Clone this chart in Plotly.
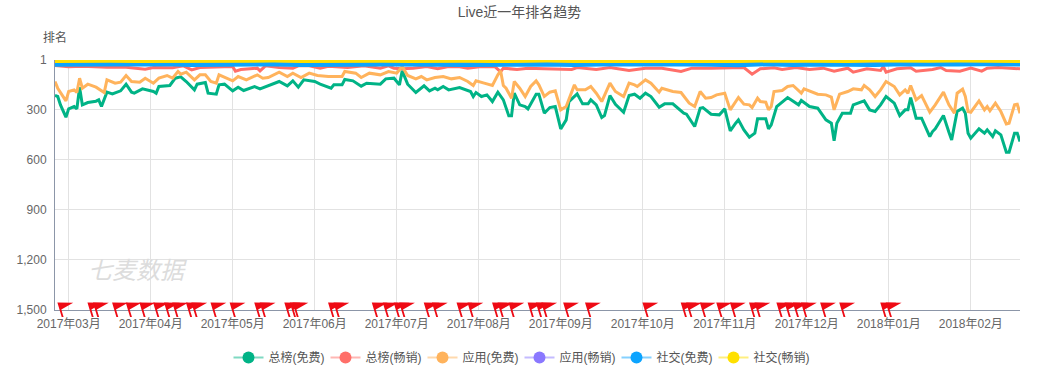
import plotly.graph_objects as go

TITLE = "Live近一年排名趋势"
WATERMARK = "七麦数据"
Y_NAME = "排名"
NAMES = ["总榜(免费)", "总榜(畅销)", "应用(免费)", "应用(畅销)", "社交(免费)", "社交(畅销)"]
COLORS = ["#00b386", "#ff6f69", "#ffb35c", "#8a78ff", "#0ca4ff", "#ffe000"]
PALE = ["rgba(0,179,134,0.5)", "rgba(255,111,105,0.5)", "rgba(255,179,92,0.5)",
        "rgba(138,120,255,0.5)", "rgba(12,164,255,0.5)", "rgba(255,224,0,0.5)"]

MONTH_IDX = [5, 35, 65, 95, 125, 155, 185, 215, 245, 275, 305, 335]
MONTH_LABELS = ["2017年03月", "2017年04月", "2017年05月", "2017年06月", "2017年07月", "2017年08月",
                "2017年09月", "2017年10月", "2017年11月", "2017年12月", "2018年01月", "2018年02月"]
LAST_IDX = 353
RANK_TICKS = [1, 300, 600, 900, 1200, 1500]
RANK_LABELS = ["1", "300", "600", "900", "1,200", "1,500"]

green_x = [0, 1, 2, 4, 5, 7, 8, 9, 10, 12, 15, 16, 17, 19, 21, 24, 26, 28, 29, 32, 36, 37, 38, 42, 44, 46, 48, 51, 52, 55, 56, 59,
           60, 62, 65, 67, 69, 73, 75, 79, 82, 85, 87, 89, 91, 95, 97, 101, 102, 105, 106, 109, 112, 114, 119,
           121, 124, 126, 127, 129, 132, 135, 137, 139, 140, 142, 144, 148, 152, 153, 154, 156, 158, 160, 162, 164, 166, 167, 168, 170, 172, 173, 176, 177, 179,
           181, 183, 185, 187, 188, 191, 193, 195, 196, 198, 200, 201, 203, 205, 208, 210, 212, 214, 216, 218, 221, 223, 226, 230, 231, 234, 236, 237, 240,
           243, 245, 247, 249, 250, 252, 254, 256, 257, 260, 261, 262, 264, 268, 272, 273, 276, 279, 282, 284, 285, 286, 288, 291, 292, 296, 298, 300,
           302, 304, 307, 309, 311, 312, 313, 315, 317, 320, 321, 322, 325, 327, 328, 330, 332, 333, 334, 335, 337, 338, 340, 341, 343, 344, 346, 348, 349, 351, 352, 353]
green_y = [214, 220, 270, 344, 294, 280, 294, 164, 270, 256, 248, 240, 280, 194, 204, 186, 146, 194, 200, 174, 190, 200, 160, 154, 110, 102, 130, 180, 146, 136, 200, 206,
           150, 146, 186, 164, 184, 160, 174, 150, 130, 156, 126, 164, 120, 130, 146, 170, 150, 150, 118, 126, 158, 140, 146,
           114, 110, 150, 66, 146, 196, 156, 186, 170, 180, 160, 180, 166, 190, 220, 196, 220, 210, 250, 194, 240, 336, 336, 200, 270, 280, 294, 206, 206, 320,
           286, 280, 414, 360, 250, 204, 264, 264, 240, 270, 346, 334, 214, 266, 314, 214, 206, 230, 200, 220, 284, 264, 264, 320, 326, 400, 290, 286, 326,
           330, 294, 426, 380, 360, 420, 464, 440, 354, 354, 414, 390, 280, 226, 270, 244, 280, 290, 360, 380, 486, 380, 320, 320, 270, 246, 300, 310,
           270, 220, 260, 334, 300, 300, 226, 350, 350, 460, 430, 414, 334, 434, 480, 310, 290, 320, 440, 470, 430, 414, 440, 420, 460, 426, 450, 554, 554, 440, 440, 490]

orange_x = [0, 1, 4, 5, 7, 8, 9, 10, 12, 15, 18, 19, 22, 24, 26, 28, 31, 33, 36, 38, 41, 43, 45, 46, 48, 51, 53, 55, 57, 59,
            60, 62, 65, 67, 70, 74, 76, 78, 82, 85, 87, 90, 93, 96, 100, 105, 106, 110, 112, 115, 119,
            122, 125, 127, 129, 132, 134, 136, 139, 142, 145, 148, 151, 153, 154, 157, 160, 162, 163, 164, 165, 167, 168, 170, 172, 174, 176, 177, 179,
            181, 183, 185, 187, 190, 191, 194, 196, 198, 200, 203, 205, 208, 210, 212, 213, 216, 218, 221, 222, 226, 229, 232, 234, 236, 238, 240,
            242, 245, 247, 250, 252, 254, 255, 257, 258, 260, 261, 262, 263, 266, 268, 270, 273, 274, 279, 282, 284, 285, 287, 290, 292, 295, 296, 298, 300,
            302, 304, 307, 309, 311, 312, 313, 315, 317, 320, 322, 325, 327, 329, 330, 332, 333, 334, 335, 337, 338, 340, 341, 342, 344, 346, 348, 349, 351, 352, 353]
orange_y = [130, 170, 246, 190, 180, 196, 110, 170, 146, 164, 196, 120, 140, 134, 94, 130, 134, 110, 140, 110, 94, 110, 70, 86, 74, 120, 90, 90, 130, 140,
            90, 104, 126, 100, 120, 90, 110, 106, 74, 100, 80, 106, 80, 94, 100, 100, 70, 80, 106, 80, 90,
            70, 80, 40, 94, 114, 100, 120, 106, 100, 114, 106, 130, 154, 126, 140, 154, 90, 66, 154, 170, 230, 130, 170, 220, 160, 126, 150, 220,
            194, 186, 300, 280, 150, 180, 180, 160, 200, 250, 140, 190, 220, 140, 150, 160, 120, 140, 194, 170, 190, 196, 260, 280, 190, 230, 226,
            210, 200, 300, 226, 266, 270, 286, 230, 250, 254, 300, 280, 190, 184, 160, 154, 200, 174, 206, 210, 224, 300, 206, 190, 174, 180, 154, 180, 220,
            180, 130, 160, 210, 180, 200, 154, 240, 214, 314, 270, 194, 270, 320, 200, 176, 220, 310, 314, 270, 246, 300, 280, 306, 260, 310, 384, 380, 270, 266, 320]

red_x = [0, 5, 10, 19, 26, 33, 36, 43, 47, 50, 53, 59, 62, 65, 66, 68, 71, 74, 75, 77, 82, 87, 89, 93, 97, 100, 107, 113, 119,
         122, 124, 127, 131, 136, 140, 144, 148, 151, 156, 161, 163, 164, 169, 173, 179, 185, 189, 191, 198, 203, 210, 216, 222, 229, 233, 240,
         247, 252, 255, 258, 263, 266, 271, 276, 281, 285, 290, 292, 297, 300, 302, 303, 304, 308, 313, 315, 321, 324, 326, 331, 335, 339, 341, 345, 348, 353]
red_y = [34, 42, 38, 44, 44, 56, 46, 48, 36, 60, 46, 46, 42, 40, 68, 58, 56, 50, 66, 36, 46, 50, 36, 36, 50, 38, 46, 36, 50,
         36, 50, 54, 50, 40, 54, 40, 42, 50, 40, 42, 72, 50, 58, 50, 54, 54, 58, 46, 58, 46, 64, 50, 50, 70, 50, 50,
         50, 46, 86, 54, 48, 58, 46, 58, 50, 68, 50, 74, 54, 58, 64, 40, 74, 54, 48, 68, 58, 46, 64, 68, 50, 68, 50, 46, 50, 54]

thin_x = [0, 10, 20, 30, 40, 50, 60, 70, 80, 90, 100, 110, 120, 130, 140, 150, 160, 170, 180, 190, 200, 210, 220, 230,
          240, 250, 260, 270, 280, 290, 300, 310, 320, 330, 340, 353]
purple_y = [22, 22, 20, 24, 22, 20, 22, 20, 26, 22, 20, 18, 22, 28, 18, 24, 20, 26, 20, 18, 26, 22, 18, 26,
            22, 20, 22, 26, 18, 24, 18, 20, 26, 16, 16, 18]
blue_y = [28, 26, 25, 28, 25, 30, 27, 25, 26, 30, 26, 28, 26, 25, 28, 30, 26, 28, 26, 30, 27, 25, 28, 26,
          28, 31, 25, 30, 26, 28, 30, 25, 28, 26, 25, 26]
yellow_y = [5, 3, 4, 6, 5, 2, 4, 5, 3, 6, 4, 3, 4, 5, 2, 4, 6, 3, 3, 5, 6, 5, 2, 7,
            5, 6, 3, 5, 4, 6, 3, 6, 4, 3, 6, 5]

FLAG_IDX = [3, 14, 16, 23, 28, 33, 38, 42, 45, 50, 52, 59, 66, 75, 77, 86, 88, 89, 102, 104,
            118, 122, 126, 128, 137, 140, 149, 153, 162, 164, 168, 175, 178, 180, 188, 196, 217,
            231, 233, 238, 244, 249, 256, 258, 266, 269, 272, 275, 282, 289, 304, 306]

FONT = "Liberation Sans, Noto Sans CJK SC, sans-serif"
fig = go.Figure()

series = [(green_x, green_y), (red_x, red_y), (orange_x, orange_y),
          (thin_x, purple_y), (thin_x, blue_y), (thin_x, yellow_y)]
WIDTHS = [3, 3, 3, 3, 4.5, 4.5]
for name, color, (xs, ys), w in zip(NAMES, COLORS, series, WIDTHS):
    fig.add_trace(go.Scatter(x=xs, y=ys, mode="lines", name=name, legendgroup=name, showlegend=False,
                             line=dict(color=color, width=w), cliponaxis=False))
for name, color, pale in zip(NAMES, COLORS, PALE):
    fig.add_trace(go.Scatter(x=[None], y=[None], mode="lines+markers", name=name, legendgroup=name,
                             line=dict(color=pale, width=2),
                             marker=dict(color=color, size=12, opacity=1)))

for idx in FLAG_IDX:
    fig.add_shape(type="path", xref="x", yref="paper", xsizemode="pixel", ysizemode="pixel",
                  xanchor=idx, yanchor=0,
                  path="M 0.4,-7 L -1.9,0.5 L 10,7.2 L -5.8,7.5 L -1.5,-7 Z",
                  fillcolor="#ee0a14", line=dict(width=0), layer="above")

fig.add_annotation(text=Y_NAME, xref="paper", yref="paper", x=0, y=1 + 22 / 250, showarrow=False,
                   xanchor="center", yanchor="middle", font=dict(size=12, color="#555"))
fig.add_annotation(text="<i>" + WATERMARK + "</i>", xref="paper", yref="paper", x=31 / 965, y=40 / 250, showarrow=False,
                   xanchor="left", yanchor="middle", font=dict(size=24, color="#dcdcdc", family=FONT))

fig.update_layout(
    width=1039, height=370, margin=dict(l=55, r=19, t=60, b=60, autoexpand=False),
    paper_bgcolor="white", plot_bgcolor="white", font=dict(family=FONT, size=12, color="#666"),
    title=dict(text=TITLE, x=0.5, xanchor="center", y=0.967, yanchor="middle", font=dict(size=14, color="#555")),
    legend=dict(orientation="h", x=0.5, xanchor="center", xref="container", y=-0.19, yanchor="middle",
                font=dict(size=12, color="#555"), itemwidth=30, itemclick=False, itemdoubleclick=False,
                entrywidth=52, entrywidthmode="pixels"),
    xaxis=dict(range=[0, LAST_IDX], tickmode="array", tickvals=MONTH_IDX + [LAST_IDX], ticktext=MONTH_LABELS + [""],
               showgrid=True, gridcolor="#e2e2e2", gridwidth=1, zeroline=False, ticks="", showline=True,
               linecolor="#8c96a8", linewidth=1, tickfont=dict(size=12, color="#666"), ticklabelstandoff=3),
    yaxis=dict(range=[1500, 1], tickmode="array", tickvals=RANK_TICKS, ticktext=RANK_LABELS,
               showgrid=True, gridcolor="#e2e2e2", gridwidth=1, zeroline=False, ticks="", showline=True,
               linecolor="#8c96a8", linewidth=1, tickfont=dict(size=12, color="#666"), ticklabelstandoff=5),
)
fig.write_html("out.html", config={"displayModeBar": False},
               post_script="document.body.style.margin='0';document.documentElement.style.overflow='hidden';")
